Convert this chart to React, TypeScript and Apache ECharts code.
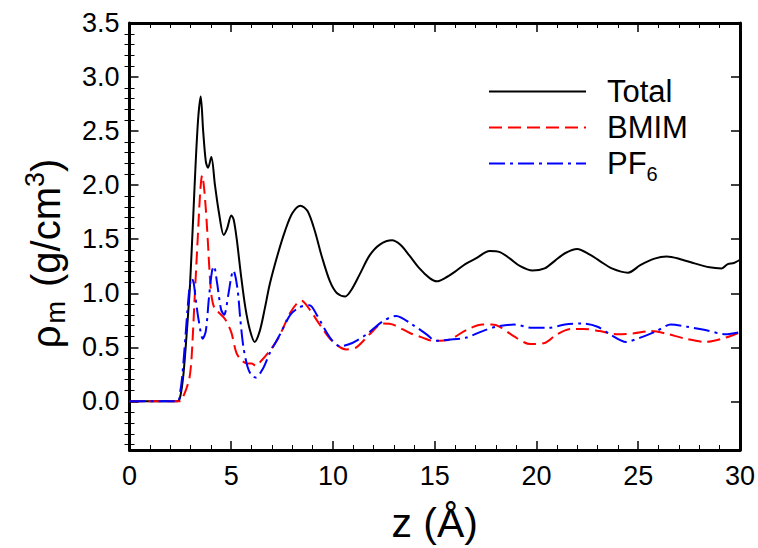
import React, { useEffect, useRef } from 'react';
import * as echarts from 'echarts';

const FONT = '"Liberation Sans", Arial, sans-serif';

// z (Å), rho_m (g/cm^3)
const total: [number, number][] = [
  [0, 0], [2.35, 0], [2.5, 0.05], [2.65, 0.25], [2.8, 0.6], [2.92, 0.92], [2.98, 1.1], [3.13, 1.7], [3.25, 2.2], [3.38, 2.63],
  [3.5, 2.82], [3.62, 2.5], [3.75, 2.22], [3.86, 2.16], [4.02, 2.26], [4.2, 2.0], [4.4, 1.74], [4.63, 1.54], [4.8, 1.6], [5.0, 1.72],
  [5.12, 1.68], [5.27, 1.5], [5.47, 1.18], [5.7, 0.86], [5.93, 0.65], [6.15, 0.55], [6.4, 0.65], [6.65, 0.86], [6.9, 1.09], [7.3, 1.37],
  [7.65, 1.58], [8.0, 1.74], [8.4, 1.81], [8.75, 1.76], [9.1, 1.58], [9.45, 1.34], [9.85, 1.11], [10.2, 1.0], [10.6, 0.97], [10.9, 1.03],
  [11.3, 1.17], [11.8, 1.35], [12.3, 1.45], [12.9, 1.49], [13.3, 1.45], [13.75, 1.35], [14.25, 1.23], [14.75, 1.14], [15.1, 1.11], [15.5, 1.14],
  [16.0, 1.2], [16.5, 1.27], [17.0, 1.32], [17.7, 1.39], [18.2, 1.38], [18.7, 1.32], [19.2, 1.25], [19.8, 1.21], [20.4, 1.23], [20.9, 1.3],
  [21.4, 1.37], [22.0, 1.41], [22.6, 1.36], [23.1, 1.3], [23.7, 1.23], [24.5, 1.19], [25.1, 1.26], [25.8, 1.32], [26.4, 1.34], [27.0, 1.32],
  [27.7, 1.28], [28.5, 1.24], [29.1, 1.23], [29.4, 1.27], [29.7, 1.28], [30, 1.31],
];

const bmim: [number, number][] = [
  [0, 0], [2.5, 0], [2.65, 0.05], [2.8, 0.12], [2.95, 0.22], [3.05, 0.4], [3.2, 0.95], [3.35, 1.5], [3.48, 1.95], [3.57, 2.09],
  [3.65, 2.0], [3.75, 1.78], [3.85, 1.48], [3.95, 1.15], [4.05, 0.95], [4.2, 0.85], [4.4, 0.82], [4.7, 0.76], [5.0, 0.64], [5.25, 0.45],
  [5.5, 0.38], [5.8, 0.35], [6.0, 0.35], [6.2, 0.33], [6.5, 0.38], [6.9, 0.47], [7.3, 0.58], [7.55, 0.68], [7.9, 0.82], [8.2, 0.9],
  [8.45, 0.93], [8.85, 0.85], [9.35, 0.71], [9.95, 0.56], [10.65, 0.48], [11.15, 0.5], [11.8, 0.62], [12.45, 0.72], [12.95, 0.71], [13.8, 0.63],
  [14.4, 0.59], [14.9, 0.56], [15.7, 0.57], [16.55, 0.66], [17.35, 0.71], [17.8, 0.71], [18.2, 0.69], [18.9, 0.6], [19.7, 0.53], [20.4, 0.54],
  [21.0, 0.62], [21.7, 0.67], [22.3, 0.67], [23.1, 0.65], [24.0, 0.62], [24.8, 0.63], [25.6, 0.65], [26.3, 0.63], [27.3, 0.58], [28.3, 0.55],
  [29.3, 0.59], [30, 0.64],
];

const pf6: [number, number][] = [
  [0, 0], [2.35, 0], [2.5, 0.1], [2.6, 0.25], [2.75, 0.6], [2.85, 0.85], [2.95, 1.05], [3.05, 1.14], [3.15, 1.1], [3.25, 0.95],
  [3.4, 0.75], [3.6, 0.58], [3.75, 0.65], [3.9, 0.95], [4.05, 1.2], [4.15, 1.25], [4.3, 1.1], [4.5, 0.85], [4.65, 0.8], [4.85, 0.98],
  [5.0, 1.15], [5.1, 1.21], [5.3, 1.05], [5.45, 0.75], [5.6, 0.5], [5.8, 0.32], [6.0, 0.24], [6.2, 0.22], [6.55, 0.3], [6.9, 0.45],
  [7.4, 0.62], [7.9, 0.8], [8.35, 0.87], [8.85, 0.89], [9.2, 0.8], [9.85, 0.59], [10.35, 0.51], [10.95, 0.54], [11.65, 0.62], [12.45, 0.74],
  [13.1, 0.79], [13.9, 0.71], [14.6, 0.62], [15.05, 0.56], [15.7, 0.57], [16.55, 0.59], [17.35, 0.65], [18.0, 0.69], [18.9, 0.71], [19.8, 0.68],
  [20.6, 0.68], [21.4, 0.71], [22.2, 0.72], [23.0, 0.69], [23.7, 0.61], [24.4, 0.55], [25.1, 0.59], [25.9, 0.65], [26.6, 0.71], [27.4, 0.69],
  [28.3, 0.66], [29.3, 0.62], [30, 0.64],
];

const seriesNames = ['Total', 'BMIM', 'PF6'];
const yMajorTicks = [0, 0.5, 1.0, 1.5, 2.0, 2.5, 3.0, 3.5];
const Y_MIN = -0.45;
const Y_MAX = 3.5;

export default function App() {
  const ref = useRef<HTMLDivElement>(null);

  useEffect(() => {
    const chart = echarts.init(ref.current!, null, { renderer: 'svg' });

    const yMinorTicks: number[] = [];
    for (let i = -4; i <= 34; i++) {
      if (i % 5 !== 0) yMinorTicks.push(Number((i / 10).toFixed(1)));
    }

    const frameLine = { show: true, onZero: false, lineStyle: { color: '#000', width: 3 } };
    const majorTick = { show: true, inside: true, length: 9, lineStyle: { color: '#000', width: 1.5 } };

    const xBase = {
      type: 'value',
      min: 0,
      max: 30,
      interval: 5,
      axisLine: frameLine,
      axisTick: majorTick,
      minorTick: { show: true, splitNumber: 5, length: 5, lineStyle: { color: '#000', width: 1 } },
      splitLine: { show: false },
      minorSplitLine: { show: false },
    };

    const yMajor = (position: string, labels: boolean) => ({
      type: 'value',
      position,
      min: Y_MIN,
      max: Y_MAX,
      axisLine: frameLine,
      axisTick: { ...majorTick, customValues: yMajorTicks },
      axisLabel: labels
        ? {
            show: true,
            customValues: yMajorTicks,
            formatter: (v: number) => v.toFixed(1),
            fontSize: 27,
            fontFamily: FONT,
            color: '#000',
            margin: 10,
          }
        : { show: false },
      splitLine: { show: false },
    });

    const yMinor = (position: string) => ({
      type: 'value',
      position,
      min: Y_MIN,
      max: Y_MAX,
      axisLine: { show: false },
      axisTick: { show: true, inside: true, length: 5, customValues: yMinorTicks, lineStyle: { color: '#000', width: 1 } },
      axisLabel: { show: false },
      splitLine: { show: false },
    });

    const yLeft: any = yMajor('left', true);
    yLeft.name = '{t|ρ}{sub|m}{t| (g/cm}{sup|3}{t|)}';
    yLeft.nameLocation = 'middle';
    yLeft.nameGap = 60;
    yLeft.nameTextStyle = {
      fontFamily: FONT,
      color: '#000',
      padding: [0, 34, 0, 0],
      rich: {
        t: { fontSize: 40, fontFamily: FONT, color: '#000', lineHeight: 48, verticalAlign: 'middle' },
        sub: { fontSize: 27, fontFamily: FONT, color: '#000', lineHeight: 48, verticalAlign: 'bottom', padding: [0, 3, 0, 2] },
        sup: { fontSize: 27, fontFamily: FONT, color: '#000', lineHeight: 48, verticalAlign: 'top' },
      },
    };

    chart.setOption({
      animation: false,
      backgroundColor: '#fff',
      grid: { left: 129.5, right: 17, top: 23, bottom: 95 },
      xAxis: [
        {
          ...xBase,
          position: 'bottom',
          axisLabel: { fontSize: 27, fontFamily: FONT, color: '#000', margin: 12 },
          name: 'z (Å)',
          nameLocation: 'middle',
          nameGap: 52,
          nameTextStyle: { fontSize: 41, fontFamily: FONT, color: '#000' },
        },
        { ...xBase, position: 'top', axisLabel: { show: false } },
      ],
      yAxis: [yLeft, yMinor('left'), yMajor('right', false), yMinor('right')],
      legend: {
        orient: 'vertical',
        left: 483,
        top: 71,
        itemWidth: 97,
        itemHeight: 24,
        itemGap: 5,
        data: seriesNames,
        itemStyle: { color: 'transparent', borderColor: 'transparent', borderWidth: 0, opacity: 0 },
        formatter: (name: string) => (name === 'PF6' ? '{a|PF}{s|6}' : '{a|' + name + '}'),
        textStyle: {
          padding: [0, 0, 0, 16],
          rich: {
            a: { fontSize: 31, fontFamily: FONT, color: '#000', lineHeight: 34 },
            s: { fontSize: 20, fontFamily: FONT, color: '#000', lineHeight: 40, verticalAlign: 'bottom' },
          },
        },
      },
      series: [
        {
          name: 'Total',
          type: 'line',
          data: total,
          symbol: 'none',
          smooth: 0.3,
          lineStyle: { color: '#000', width: 2 },
          itemStyle: { color: '#000' },
        },
        {
          name: 'BMIM',
          type: 'line',
          data: bmim,
          symbol: 'none',
          smooth: 0.3,
          lineStyle: { color: '#ff0000', width: 2, type: [13, 6] },
          itemStyle: { color: '#ff0000' },
        },
        {
          name: 'PF6',
          type: 'line',
          data: pf6,
          symbol: 'none',
          smooth: 0.3,
          lineStyle: { color: '#0000ff', width: 2, type: [16, 5, 3, 5] },
          itemStyle: { color: '#0000ff' },
        },
      ],
    });

    return () => chart.dispose();
  }, []);

  return (
    <div
      ref={ref}
      style={{ position: 'fixed', left: 0, top: 0, width: 758, height: 548, background: '#fff' }}
    />
  );
}
